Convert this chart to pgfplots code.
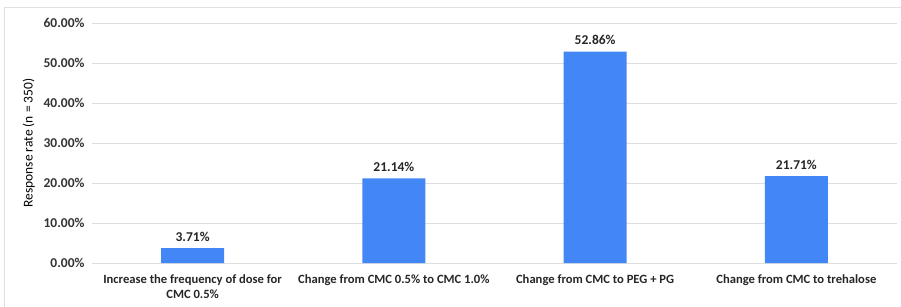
\documentclass[border=0pt]{standalone}
\usepackage{pgfplots}
\pgfplotsset{compat=1.18}
\usepackage{fontspec}
\setmainfont{Carlito}
\definecolor{barblue}{RGB}{66,135,245}
\definecolor{gridgray}{RGB}{222,222,222}
\definecolor{framegray}{RGB}{225,225,225}
\begin{document}
\begin{tikzpicture}[x=1pt,y=1pt]
\useasboundingbox (0,0) rectangle (901,306);
\draw[framegray, line width=0.8pt] (4,-5) rectangle (910,299);
\begin{axis}[
  at={(92pt,43pt)}, anchor=south west,
  scale only axis, width=805pt, height=240pt,
  xmin=-0.5, xmax=3.5, ymin=0, ymax=60,
  ytick={0,10,...,60},
  yticklabel={\pgfmathprintnumber[fixed,fixed zerofill,precision=2]{\tick}\%},
  /pgf/number format/assume math mode=true,
  yticklabel style={font=\bfseries\fontsize{13.5}{14}\selectfont, text=black!80, xshift=-4pt},
  xtick=data,
  xticklabels={{Increase the frequency of dose for\\CMC 0.5\%},{Change from CMC 0.5\% to CMC 1.0\%},{Change from CMC to PEG + PG},{Change from CMC to trehalose}},
  xticklabel style={font=\bfseries\fontsize{12.6}{15}\selectfont, text=black!85, align=center, anchor=north, yshift=-8pt},
  axis line style={draw=none},
  major tick length=0pt,
  ymajorgrids, grid style={gridgray, line width=1pt},
  ylabel={Response rate (n = 350)},
  every axis y label/.style={at={(ticklabel cs:0.5)}, rotate=90, anchor=south, yshift=2pt, font=\fontsize{13.5}{14}\selectfont, text=black},
  ybar, bar width=63pt,
  nodes near coords={\pgfmathprintnumber[fixed,fixed zerofill,precision=2]{\pgfplotspointmeta}\%},
  nodes near coords style={font=\bfseries\fontsize{13.5}{14}\selectfont, text=black!85, yshift=3pt, /pgf/number format/assume math mode=true},
  clip=false,
]
\draw[gridgray, line width=1pt] (axis cs:-0.5,0) -- (axis cs:3.5,0);
\addplot[fill=barblue, draw=none] coordinates {(0,3.71) (1,21.14) (2,52.86) (3,21.71)};
\end{axis}
\end{tikzpicture}
\end{document}
